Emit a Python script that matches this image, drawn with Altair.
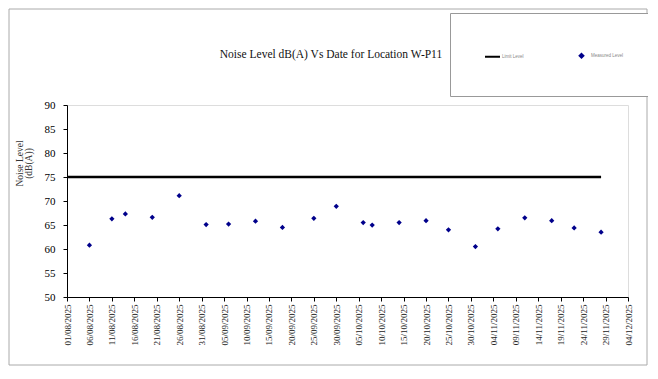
import altair as alt
import pandas as pd

# ---- data ----
measure_dates = ["06/08/2025", "11/08/2025", "14/08/2025", "20/08/2025", "26/08/2025",
                 "01/09/2025", "06/09/2025", "12/09/2025", "18/09/2025", "25/09/2025",
                 "30/09/2025", "06/10/2025", "08/10/2025", "14/10/2025", "20/10/2025",
                 "25/10/2025", "31/10/2025", "05/11/2025", "11/11/2025", "17/11/2025",
                 "22/11/2025", "28/11/2025"]
measure_values = [60.8, 66.3, 67.3, 66.6, 71.1,
                  65.1, 65.2, 65.8, 64.5, 66.4,
                  68.9, 65.5, 65.0, 65.5, 65.9,
                  64.0, 60.5, 64.2, 66.5, 65.9,
                  64.4, 63.5]
limit_dates = ["01/08/2025", "28/11/2025"]
limit_values = [75, 75]
series_names = ["Limit Level", "Measured Level"]
series_colors = ["#000000", "#00008B"]
start_date = "01/08/2025"
end_date = "04/12/2025"
y_ticks = [50, 55, 60, 65, 70, 75, 80, 85, 90]
title_text = "Noise Level dB(A) Vs Date for Location W-P11"
y_title = ["Noise Level", "(dB(A))"]

origin = pd.to_datetime(start_date, format="%d/%m/%Y")
def day(s):
    return (pd.to_datetime(s, format="%d/%m/%Y") - origin).days

span = day(end_date)
x_ticks = list(range(0, span + 1, 5))

meas = pd.DataFrame({"day": [day(d) for d in measure_dates],
                     "level": measure_values,
                     "series": series_names[1]})
lim = pd.DataFrame({"day": [day(d) for d in limit_dates],
                    "level": limit_values,
                    "series": series_names[0]})
one = pd.DataFrame({"t": [title_text]})

W, H = 561, 192
PL, PT, PR, PB = 59, 97, 20, 70

x_enc = alt.X("day:Q",
              scale=alt.Scale(domain=[0, span], nice=False, zero=False),
              axis=alt.Axis(values=x_ticks, title=None, grid=False,
                            labelExpr="utcFormat(utc(2025, 7, 1 + datum.value), '%d/%m/%Y')",
                            labelAngle=-90, labelFont="Liberation Sans Narrow",
                            labelFontSize=9, labelColor="#222", labelPadding=3,
                            tickSize=4, tickColor="#000", domainColor="#000",
                            labelOverlap=False, labelBound=False, labelFlush=False))
y_enc = alt.Y("level:Q",
              scale=alt.Scale(domain=[50, 90], nice=False, zero=False),
              axis=alt.Axis(values=y_ticks, title=y_title, grid=False,
                            titleFont="Liberation Serif", titleFontSize=9.5,
                            titleFontWeight="normal", titleColor="#333",
                            titleX=-48, titleY=58, titleAngle=-90,
                            titleBaseline="middle", titleAlign="center",
                            titleLineHeight=9,
                            labelFont="Liberation Serif", labelFontSize=11,
                            labelColor="#000", labelPadding=8,
                            tickSize=4, tickColor="#000", domainColor="#000"))

SYM = 225
color_scale = alt.Scale(domain=series_names, range=series_colors)
shape_scale = alt.Scale(domain=series_names,
                        range=["M-1,0L1,0", "M0,-0.25L0.25,0L0,0.25L-0.25,0Z"])
legend = alt.Legend(title=None, orient="none", legendX=383, legendY=-92,
                    direction="horizontal", columns=2, columnPadding=49,
                    padding=34, strokeColor="#999", fillColor="white",
                    labelFontSize=4.5, labelColor="#888", symbolSize=SYM,
                    symbolStrokeWidth=2, labelOffset=1)

line = alt.Chart(lim).mark_line(strokeWidth=2.5).encode(
    x=x_enc, y=y_enc,
    color=alt.Color("series:N", scale=color_scale, legend=legend))

pts = alt.Chart(meas).mark_point(filled=True, size=441, opacity=1).encode(
    x=x_enc, y=y_enc,
    color=alt.Color("series:N", scale=color_scale, legend=legend),
    shape=alt.Shape("series:N", scale=shape_scale, legend=legend))

frame = alt.Chart(one).mark_rect(fillOpacity=0, stroke="#aaa", strokeWidth=1).encode(
    x=alt.value(-58), x2=alt.value(W + PR - 1),
    y=alt.value(-96), y2=alt.value(H + PB - 2))

title = alt.Chart(one).mark_text(font="Liberation Serif", fontSize=11.5,
                                 fontWeight="normal", color="#111",
                                 align="center", baseline="middle").encode(
    x=alt.value(264), y=alt.value(-50), text="t:N")

chart = alt.layer(frame, title, line, pts).properties(
    width=W, height=H,
    autosize="none",
    padding={"left": PL, "top": PT, "right": PR, "bottom": PB},
).configure_view(stroke="#999", strokeWidth=1).configure(background="white")

chart.save("out.html", embed_options={"renderer": "svg", "actions": False})
